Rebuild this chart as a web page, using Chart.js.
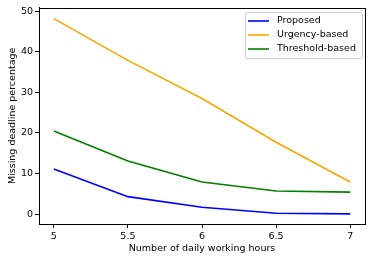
<!DOCTYPE html>
<html>
<head>
<meta charset="utf-8">
<script src="https://cdn.jsdelivr.net/npm/chart.js@4"></script>
<style>
html, body { margin: 0; padding: 0; background: #fff; }
</style>
</head>
<body>
<canvas id="c" width="373" height="261"></canvas>
<script>
const hours = [5, 5.5, 6, 6.5, 7];
const proposed = [11.1, 4.3, 1.7, 0.2, 0.05];
const urgency = [48.2, 37.9, 28.5, 17.7, 7.9];
const threshold = [20.5, 13.1, 7.9, 5.7, 5.4];
const xTicks = [5, 5.5, 6, 6.5, 7];
const yTicks = [0, 10, 20, 30, 40, 50];

const FONT = 'DejaVu Sans';

const toPoints = vals => hours.map((h, i) => ({ x: h, y: vals[i] }));

// frame + legend inside the plot, matplotlib style
const framePlugin = {
  id: 'frame',
  afterDraw(chart) {
    const { ctx, chartArea: a } = chart;
    ctx.save();
    ctx.strokeStyle = '#000';
    ctx.lineWidth = 1;
    ctx.strokeRect(Math.round(a.left) + 0.5, Math.round(a.top) + 0.5,
      Math.round(a.right - a.left), Math.round(a.bottom - a.top));

    // legend box
    const ds = chart.data.datasets;
    const bx = 245, by = 12, bw = 117, bh = 46;
    ctx.fillStyle = 'rgba(255,255,255,0.8)';
    ctx.strokeStyle = '#ccc';
    ctx.beginPath();
    ctx.roundRect(bx + 0.5, by + 0.5, bw, bh, 2);
    ctx.fill();
    ctx.stroke();
    ctx.font = '9.5px "' + FONT + '"';
    ctx.textBaseline = 'middle';
    ds.forEach((d, i) => {
      const y = by + 9 + i * 14;
      ctx.strokeStyle = d.borderColor;
      ctx.lineWidth = 1.6;
      ctx.beginPath();
      ctx.moveTo(bx + 3, y);
      ctx.lineTo(bx + 24, y);
      ctx.stroke();
      ctx.fillStyle = '#000';
      ctx.fillText(d.label, bx + 32, y);
    });
    ctx.restore();
  }
};

new Chart(document.getElementById('c'), {
  type: 'line',
  data: {
    datasets: [
      { label: 'Proposed', data: toPoints(proposed), borderColor: '#0000ff' },
      { label: 'Urgency-based', data: toPoints(urgency), borderColor: '#ffa500' },
      { label: 'Threshold-based', data: toPoints(threshold), borderColor: '#008000' }
    ]
  },
  options: {
    responsive: false,
    animation: false,
    devicePixelRatio: 1,
    layout: { padding: { left: 0, right: 8, top: 7, bottom: 0 } },
    elements: {
      point: { radius: 0 },
      line: { borderWidth: 1.6, tension: 0 }
    },
    plugins: {
      legend: { display: false },
      tooltip: { enabled: false }
    },
    scales: {
      x: {
        type: 'linear',
        min: 4.9,
        max: 7.1,
        afterBuildTicks: s => { s.ticks = xTicks.map(v => ({ value: v })); },
        afterFit: s => { s.height = 37; },
        grid: { drawOnChartArea: false, drawTicks: true, tickLength: 4, tickColor: '#000' },
        border: { display: true, color: '#000' },
        ticks: {
          color: '#000', padding: 3, maxRotation: 0, autoSkip: false,
          font: { family: FONT, size: 9.5 },
          callback: v => String(v)
        },
        title: {
          display: true, text: 'Number of daily working hours', color: '#000',
          font: { family: FONT, size: 9.5 }, padding: { top: 2, bottom: 7 }
        }
      },
      y: {
        min: -2.45,
        max: 50.9,
        afterBuildTicks: s => { s.ticks = yTicks.map(v => ({ value: v })); },
        afterFit: s => { s.width = 39; },
        grid: { drawOnChartArea: false, drawTicks: true, tickLength: 4, tickColor: '#000' },
        border: { display: true, color: '#000' },
        ticks: {
          color: '#000', padding: 2,
          font: { family: FONT, size: 9.5 }
        },
        title: {
          display: true, text: 'Missing deadline percentage', color: '#000',
          font: { family: FONT, size: 9.5 }, padding: { top: 7, bottom: 0 }
        }
      }
    }
  },
  plugins: [framePlugin]
});
</script>
</body>
</html>
